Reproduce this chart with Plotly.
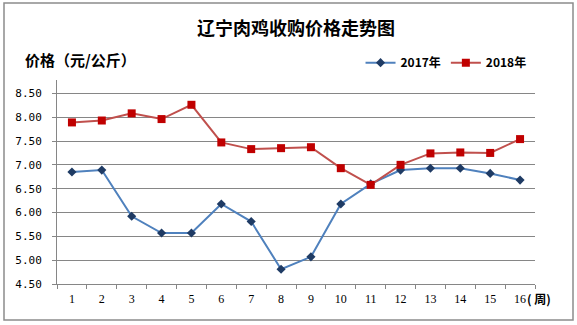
import plotly.graph_objects as go

weeks = [str(i) for i in range(1, 17)]
price_2017 = [6.85, 6.89, 5.92, 5.57, 5.57, 6.18, 5.81, 4.81, 5.07, 6.18, 6.60, 6.89, 6.93, 6.93, 6.82, 6.68]
price_2018 = [7.89, 7.93, 8.08, 7.96, 8.26, 7.47, 7.33, 7.35, 7.37, 6.93, 6.58, 7.00, 7.24, 7.26, 7.25, 7.54]
y_ticks = [4.5, 5.0, 5.5, 6.0, 6.5, 7.0, 7.5, 8.0, 8.5]
y_tick_text = ["4.50", "5.00", "5.50", "6.00", "6.50", "7.00", "7.50", "8.00", "8.50"]

CJK = "Noto Sans CJK SC"

fig = go.Figure()
fig.add_trace(go.Scatter(
    x=weeks, y=price_2017, name="2017年", mode="lines+markers",
    line=dict(color="#4F81BD", width=2),
    marker=dict(symbol="diamond", size=7, color="#1F3B64"),
))
fig.add_trace(go.Scatter(
    x=weeks, y=price_2018, name="2018年", mode="lines+markers",
    line=dict(color="#C0504D", width=2),
    marker=dict(symbol="square", size=8, color="#C00000"),
))

fig.update_layout(
    width=577, height=325,
    margin=dict(l=57, r=42, t=80, b=41, autoexpand=False),
    paper_bgcolor="white", plot_bgcolor="white",
    title=dict(text="辽宁肉鸡收购价格走势图", x=0.513, xanchor="center", y=0.912, yanchor="middle",
               font=dict(family=CJK, size=18, color="#000000", weight="bold")),
    showlegend=True,
    legend=dict(orientation="h", x=0.635, xanchor="left", y=1.085, yanchor="middle",
                font=dict(family=CJK, size=12, color="#000000", weight="bold"),
                bgcolor="rgba(0,0,0,0)", itemwidth=30, tracegroupgap=0),
    xaxis=dict(
        type="category", tickson="boundaries", ticks="outside", ticklen=4,
        tickcolor="#868686", showline=True, linecolor="#868686", linewidth=1,
        showgrid=False, tickfont=dict(family="Liberation Serif", size=12, color="#000000"),
        range=[-0.5, 15.5], ticklabelstandoff=4,
    ),
    yaxis=dict(
        range=[4.5, 8.78], tickmode="array", tickvals=y_ticks, ticktext=y_tick_text,
        ticks="outside", ticklen=4, tickcolor="#868686",
        showline=True, linecolor="#868686", linewidth=1,
        showgrid=True, gridcolor="#868686", gridwidth=1, zeroline=False,
        tickfont=dict(family="DejaVu Sans Mono", size=11, color="#000000"),
        ticklabelstandoff=8,
    ),
)

fig.add_annotation(text="价格（元/公斤）", xref="paper", yref="paper",
                   x=(23 - 57) / 478, y=(284 - 60) / 204, xanchor="left", yanchor="middle",
                   showarrow=False, font=dict(family=CJK, size=15, color="#000000", weight="bold"))
fig.add_annotation(text="( 周)", xref="paper", yref="paper",
                   x=(525 - 57) / 478, y=(284 - 298) / 204, xanchor="left", yanchor="middle",
                   showarrow=False, font=dict(family=CJK, size=12, color="#000000", weight="bold"))
fig.add_shape(type="rect", xref="paper", yref="paper",
              x0=(4 - 57) / 478, x1=(573 - 57) / 478, y0=(284 - 320) / 204, y1=(284 - 3) / 204,
              line=dict(color="#8C8C8C", width=1.5), fillcolor="rgba(0,0,0,0)", layer="below")

fig.write_html("out.html")
